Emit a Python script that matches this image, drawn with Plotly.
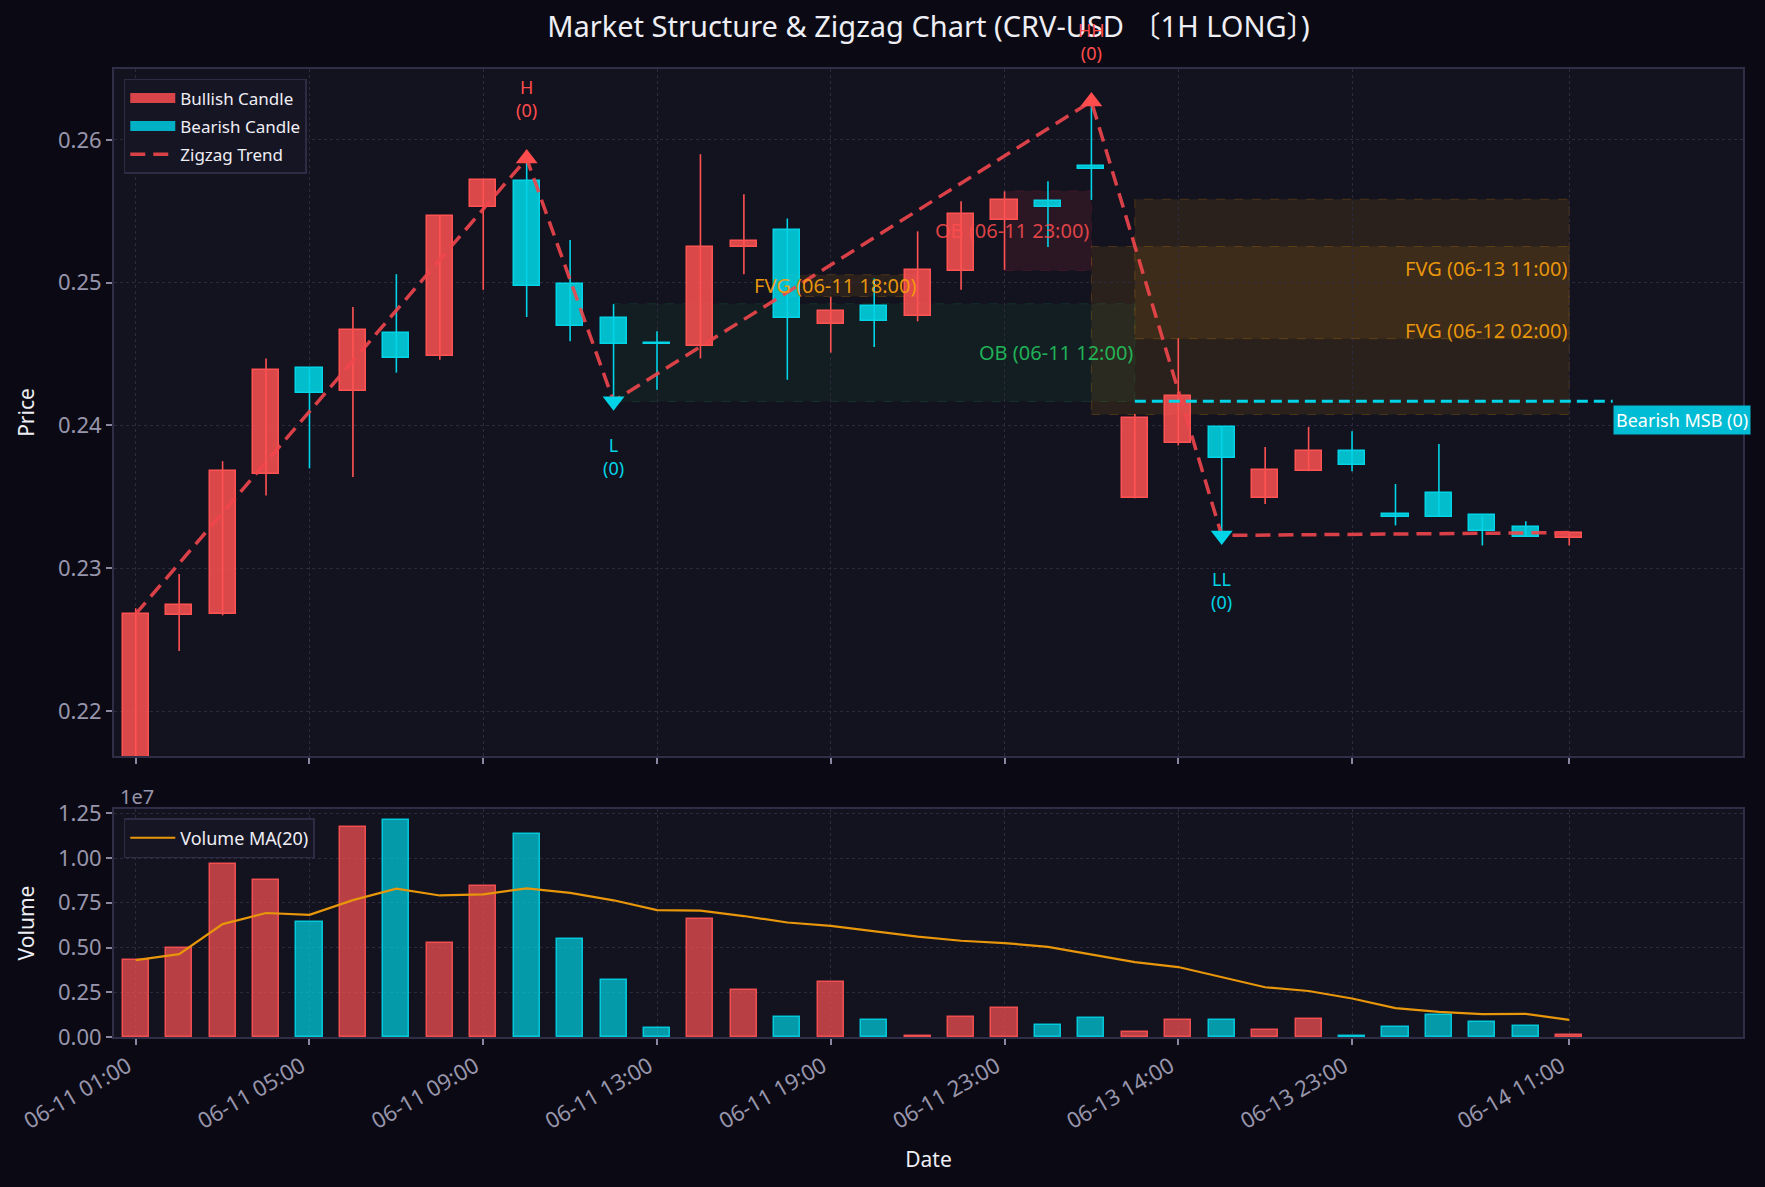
import plotly.graph_objects as go

# ---------------- data ----------------
idx = list(range(34))
opens = [0.2150, 0.2267, 0.2268, 0.2366, 0.2440, 0.2424, 0.2465, 0.2449, 0.2553, 0.2571,
         0.2499, 0.2475, 0.2458, 0.2456, 0.2525, 0.2537, 0.2471, 0.2484, 0.2477, 0.2508,
         0.2544, 0.2557, 0.2582, 0.2349, 0.2388, 0.2399, 0.2349, 0.2368, 0.2382, 0.2338,
         0.2353, 0.2337, 0.2329, 0.2321]
highs = [0.2272, 0.2296, 0.2375, 0.2447, 0.2440, 0.2483, 0.2506, 0.2547, 0.2572, 0.2587,
         0.2530, 0.2485, 0.2466, 0.2590, 0.2562, 0.2545, 0.2490, 0.2503, 0.2536, 0.2557,
         0.2564, 0.2571, 0.2627, 0.2408, 0.2461, 0.2399, 0.2385, 0.2399, 0.2396, 0.2359,
         0.2387, 0.2337, 0.2333, 0.2325]
lows = [0.2150, 0.2242, 0.2267, 0.2351, 0.2370, 0.2364, 0.2437, 0.2446, 0.2495, 0.2476,
        0.2459, 0.2417, 0.2425, 0.2447, 0.2506, 0.2432, 0.2451, 0.2455, 0.2473, 0.2495,
        0.2509, 0.2525, 0.2558, 0.2349, 0.2386, 0.2323, 0.2345, 0.2368, 0.2368, 0.2330,
        0.2336, 0.2316, 0.2322, 0.2316]
closes = [0.2268, 0.2274, 0.2368, 0.2439, 0.2423, 0.2467, 0.2447, 0.2547, 0.2572, 0.2498,
          0.2470, 0.2457, 0.2457, 0.2525, 0.2529, 0.2475, 0.2480, 0.2473, 0.2509, 0.2548,
          0.2558, 0.2553, 0.2580, 0.2405, 0.2421, 0.2377, 0.2369, 0.2382, 0.2372, 0.2336,
          0.2336, 0.2326, 0.2322, 0.2325]
volumes = [4.30e6, 4.95e6, 9.69e6, 8.76e6, 6.45e6, 11.76e6, 12.15e6, 5.23e6, 8.46e6, 11.33e6,
           5.45e6, 3.16e6, 0.50e6, 6.58e6, 2.60e6, 1.10e6, 3.07e6, 0.95e6, 0.06e6, 1.12e6,
           1.62e6, 0.67e6, 1.06e6, 0.28e6, 0.95e6, 0.95e6, 0.39e6, 1.00e6, 0.07e6, 0.56e6,
           1.23e6, 0.84e6, 0.61e6, 0.13e6]
volume_ma20 = [4.30e6, 4.63e6, 6.31e6, 6.93e6, 6.83e6, 7.65e6, 8.29e6, 7.91e6, 7.97e6, 8.31e6,
               8.05e6, 7.64e6, 7.09e6, 7.06e6, 6.76e6, 6.40e6, 6.21e6, 5.92e6, 5.61e6, 5.38e6,
               5.25e6, 5.04e6, 4.60e6, 4.18e6, 3.91e6, 3.36e6, 2.78e6, 2.57e6, 2.15e6, 1.61e6,
               1.40e6, 1.28e6, 1.29e6, 0.96e6]

tick_pos = [0, 4, 8, 12, 16, 20, 24, 28, 33]
tick_labels = ["06-11 01:00", "06-11 05:00", "06-11 09:00", "06-11 13:00", "06-11 19:00",
               "06-11 23:00", "06-13 14:00", "06-13 23:00", "06-14 11:00"]

zigzag_x = [0, 9, 11, 22, 25, 33]
zigzag_y = [0.2268, 0.2587, 0.2417, 0.2627, 0.2323, 0.2325]

pivot_x = [9, 11, 22, 25]
pivot_y = [0.2587, 0.2417, 0.2627, 0.2323]
pivot_type = ["H", "L", "HH", "LL"]
pivot_count = [0, 0, 0, 0]

# zones: kind, label, x0, x1, y0, y1
zone_kind = ["OB_bull", "FVG", "OB_bear", "FVG", "FVG"]
zone_label = ["OB (06-11 12:00)", "FVG (06-11 18:00)", "OB (06-11 23:00)",
              "FVG (06-12 02:00)", "FVG (06-13 11:00)"]
zone_x0 = [11, 15, 20, 22, 23]
zone_x1 = [23, 18, 22, 33, 33]
zone_y0 = [0.24168, 0.24904, 0.25086, 0.24077, 0.24608]
zone_y1 = [0.24853, 0.25056, 0.25643, 0.25254, 0.25585]

msb_label = "Bearish MSB (0)"
msb_x = [23, 34]
msb_level = 0.2417

# ---------------- styles ----------------
FONT = "Noto Sans, Noto Sans CJK KR, sans-serif"
BG = "#0b0a14"
PLOT_BG = "#13121f"
GRID = "#2c2a3c"
SPINE = "#302d46"
TICK = "#9896ac"
TXT = "#eeeef4"
RED = "#ff5252"
CYAN = "#00d4e6"

fig = go.Figure()

zone_style = {
    "OB_bull": ("rgba(34,197,94,0.07)", "rgba(34,197,94,0.15)", "rgba(34,197,94,0.9)"),
    "OB_bear": ("rgba(255,60,90,0.10)", "rgba(255,60,90,0.15)", "rgba(255,77,77,0.85)"),
    "FVG": ("rgba(245,158,11,0.10)", "rgba(245,158,11,0.22)", "rgba(245,158,11,0.95)"),
}
for k, lab, x0, x1, y0, y1 in zip(zone_kind, zone_label, zone_x0, zone_x1, zone_y0, zone_y1):
    fill, edge, tcol = zone_style[k]
    fig.add_shape(type="rect", xref="x", yref="y", x0=x0, x1=x1, y0=y0, y1=y1,
                  fillcolor=fill, line=dict(color=edge, width=1, dash="dash"), layer="below")
    fig.add_annotation(x=x1, y=(y0 + y1) / 2, xref="x", yref="y", text=lab, showarrow=False,
                       xanchor="right", yanchor="middle",
                       font=dict(family=FONT, size=20, color=tcol))

bull = [i for i in idx if closes[i] >= opens[i]]
bear = [i for i in idx if closes[i] < opens[i]]


def wick_xy(ids):
    xs, ys = [], []
    for i in ids:
        xs += [i, i, None]
        ys += [lows[i], highs[i], None]
    return xs, ys


for ids, col in ((bull, RED), (bear, CYAN)):
    wx, wy = wick_xy(ids)
    fig.add_trace(go.Scatter(x=wx, y=wy, mode="lines", line=dict(color=col, width=1.6),
                             showlegend=False, hoverinfo="skip", xaxis="x", yaxis="y"))

for ids, fill, edge in ((bull, "rgba(255,82,82,0.85)", RED),
                        (bear, "rgba(0,220,235,0.85)", CYAN)):
    fig.add_trace(go.Bar(x=ids,
                         base=[min(opens[i], closes[i]) for i in ids],
                         y=[abs(closes[i] - opens[i]) for i in ids],
                         width=0.6, marker=dict(color=fill, line=dict(color=edge, width=1.5)),
                         showlegend=False, xaxis="x", yaxis="y"))

# legend entries for candles
fig.add_trace(go.Scatter(x=[None], y=[None], mode="lines", name="Bullish Candle",
                         line=dict(color="#d94448", width=12), xaxis="x", yaxis="y",
                         legend="legend", legendgroup="a"))
fig.add_trace(go.Scatter(x=[None], y=[None], mode="lines", name="Bearish Candle",
                         line=dict(color="#00b0c4", width=12), xaxis="x", yaxis="y",
                         legend="legend", legendgroup="b"))

fig.add_trace(go.Scatter(x=zigzag_x, y=zigzag_y, mode="lines", name="Zigzag Trend",
                         line=dict(color="rgba(240,70,75,0.9)", width=3.5, dash="15px,8px"),
                         xaxis="x", yaxis="y", legend="legend", legendgroup="c"))

fig.add_trace(go.Scatter(x=msb_x, y=[msb_level, msb_level], mode="lines",
                         line=dict(color=CYAN, width=3, dash="11px,6px"),
                         showlegend=False, xaxis="x", yaxis="y"))
fig.add_annotation(x=msb_x[1], y=msb_level, xref="x", yref="y", text=msb_label,
                   showarrow=False, xanchor="left", yanchor="middle", yshift=-19,
                   bgcolor="#00bcd4", borderpad=2, font=dict(family=FONT, size=18, color="white"))

for px_, py_, pt, pc in zip(pivot_x, pivot_y, pivot_type, pivot_count):
    high = pt.endswith("H")
    col = "#ff4d4d" if high else CYAN
    fig.add_trace(go.Scatter(x=[px_], y=[py_], mode="markers",
                             marker=dict(symbol="triangle-up" if high else "triangle-down",
                                         size=19, color=col),
                             showlegend=False, xaxis="x", yaxis="y"))
    fig.add_annotation(x=px_, y=py_, xref="x", yref="y", text=f"{pt}<br>({pc})",
                       showarrow=False, xanchor="center", yanchor="middle",
                       yshift=60 if high else -55,
                       font=dict(family=FONT, size=18, color=col))

vcols = ["rgba(255,82,82,0.70)" if closes[i] >= opens[i] else "rgba(0,212,230,0.70)" for i in idx]
vedge = ["rgba(255,82,82,0.9)" if closes[i] >= opens[i] else "rgba(0,212,230,0.9)" for i in idx]
fig.add_trace(go.Bar(x=idx, y=volumes, width=0.6,
                     marker=dict(color=vcols, line=dict(color=vedge, width=1.5)),
                     showlegend=False, xaxis="x2", yaxis="y2"))
fig.add_trace(go.Scatter(x=idx, y=volume_ma20, mode="lines", name="Volume MA(20)",
                         line=dict(color="#e8960a", width=2.2), xaxis="x2", yaxis="y2",
                         legend="legend2"))

axis_common = dict(showgrid=True, gridcolor=GRID, griddash="dot", gridwidth=1,
                   showline=True, linecolor=SPINE, linewidth=2, mirror=True,
                   ticks="outside", ticklen=6, tickcolor="#8a88a0", tickwidth=1.5,
                   zeroline=False, tickfont=dict(family=FONT, size=22, color=TICK))

fig.update_layout(
    width=1765, height=1187,
    paper_bgcolor=BG, plot_bgcolor=PLOT_BG,
    margin=dict(l=114, r=22, t=69, b=150),
    barmode="overlay", bargap=0,
    title=dict(text="Market Structure & Zigzag Chart (CRV-USD 〔1H LONG〕)",
               x=0.5, xref="paper", xanchor="center", y=1 - 27 / 1187, yanchor="middle",
               font=dict(family=FONT, size=29, color=TXT)),
    xaxis=dict(domain=[0, 1], anchor="y", range=[-0.5, 37], tickvals=tick_pos,
               showticklabels=False, matches="x2", **axis_common),
    yaxis=dict(domain=[0.2903, 1], anchor="x", range=[0.21685, 0.26497],
               tickvals=[0.22, 0.23, 0.24, 0.25, 0.26], tickformat=".2f",
               title=dict(text="Price", standoff=18, font=dict(family=FONT, size=21, color=TXT)),
               **axis_common),
    xaxis2=dict(domain=[0, 1], anchor="y2", range=[-0.5, 37], tickvals=tick_pos,
                ticktext=tick_labels, tickangle=-30, ticklabelshift=-8,
                title=dict(text="Date", standoff=18, font=dict(family=FONT, size=21, color=TXT)),
                **axis_common),
    yaxis2=dict(domain=[0, 0.2355], anchor="x2", range=[0, 1.274e7],
                tickvals=[0, 2.5e6, 5e6, 7.5e6, 10e6, 12.5e6],
                ticktext=["0.00", "0.25", "0.50", "0.75", "1.00", "1.25"],
                title=dict(text="Volume", standoff=18, font=dict(family=FONT, size=21, color=TXT)),
                **axis_common),
    legend=dict(x=0.006, y=0.9897, xanchor="left", yanchor="top", bgcolor="#161524",
                bordercolor="#2e2b45", borderwidth=1.5, itemwidth=45,
                font=dict(family=FONT, size=17, color=TXT), tracegroupgap=3),
    legend2=dict(x=0.006, y=0.2262, xanchor="left", yanchor="top", bgcolor="#161524",
                 bordercolor="#2e2b45", borderwidth=1.5, itemwidth=45,
                 font=dict(family=FONT, size=18, color=TXT)),
    showlegend=True,
)

fig.add_annotation(text="1e7", xref="paper", yref="paper", x=0.0025, y=0.248,
                   xanchor="left", yanchor="middle", showarrow=False,
                   font=dict(family=FONT, size=20, color=TICK))

fig.write_html("out.html")
